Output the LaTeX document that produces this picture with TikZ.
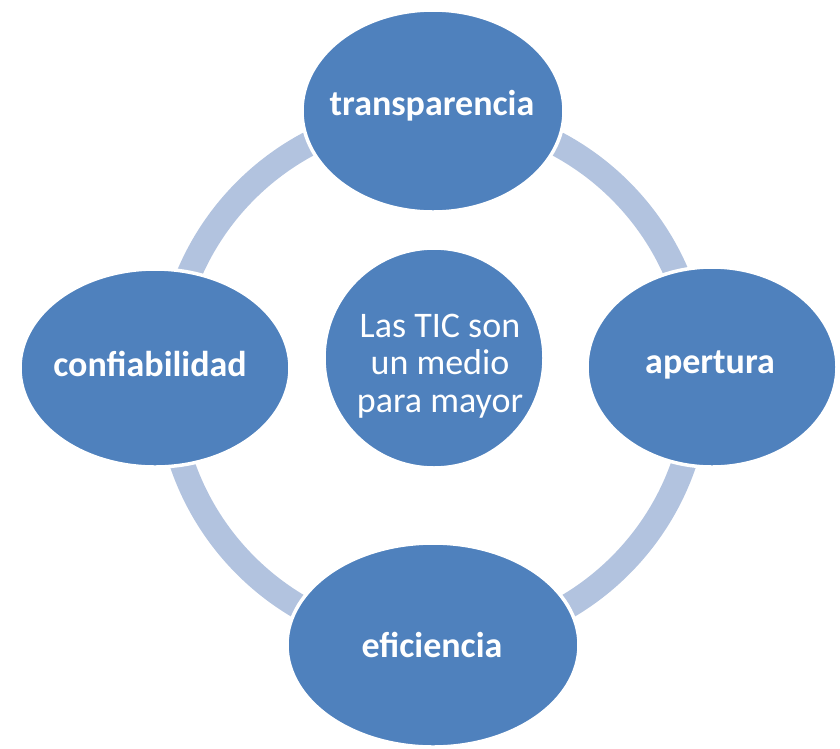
\documentclass[tikz,border=0pt]{standalone}
\usepackage{fontspec}
\setmainfont{Carlito}
\usetikzlibrary{shapes.geometric}
\definecolor{blobblue}{HTML}{4F81BD}
\definecolor{ringblue}{HTML}{B2C3DF}
\begin{document}
\begin{tikzpicture}[x=1pt,y=-1pt,
  blob/.style={ellipse, fill=blobblue, draw=white, line width=3.5pt, inner sep=0pt},
  lbl/.style={text=white, font=\fontsize{36}{40}\selectfont\bfseries, inner sep=0pt},
  ctext/.style={text=white, font=\fontsize{36}{37.5}\selectfont, align=center, inner sep=0pt}]
\useasboundingbox (0,0) rectangle (840,748);
\coordinate (ringc) at (433,378);
\draw[ringblue, line width=25pt] (ringc) circle[radius=265pt];
\node[blob, minimum width=262pt, minimum height=202pt] (t) at (433,111) {};
\node[blob, minimum width=270pt, minimum height=198pt] (l) at (155,368) {};
\node[blob, minimum width=250pt, minimum height=200pt] (r) at (712,367) {};
\node[blob, minimum width=292pt, minimum height=204pt] (b) at (433,645) {};
\node[blob, circle, minimum size=220pt] (c) at (434,358) {};
\node[lbl] (tl) at (432,106) {transparencia};
\node[lbl] (ll) at (150,364) {confiabilidad};
\node[lbl] (rl) at (710,365) {apertura};
\node[lbl] (bl) at (432,645) {eficiencia};
\node[ctext] (cl) at (440,366) {Las TIC son\\un medio\\para mayor};
\end{tikzpicture}
\end{document}
